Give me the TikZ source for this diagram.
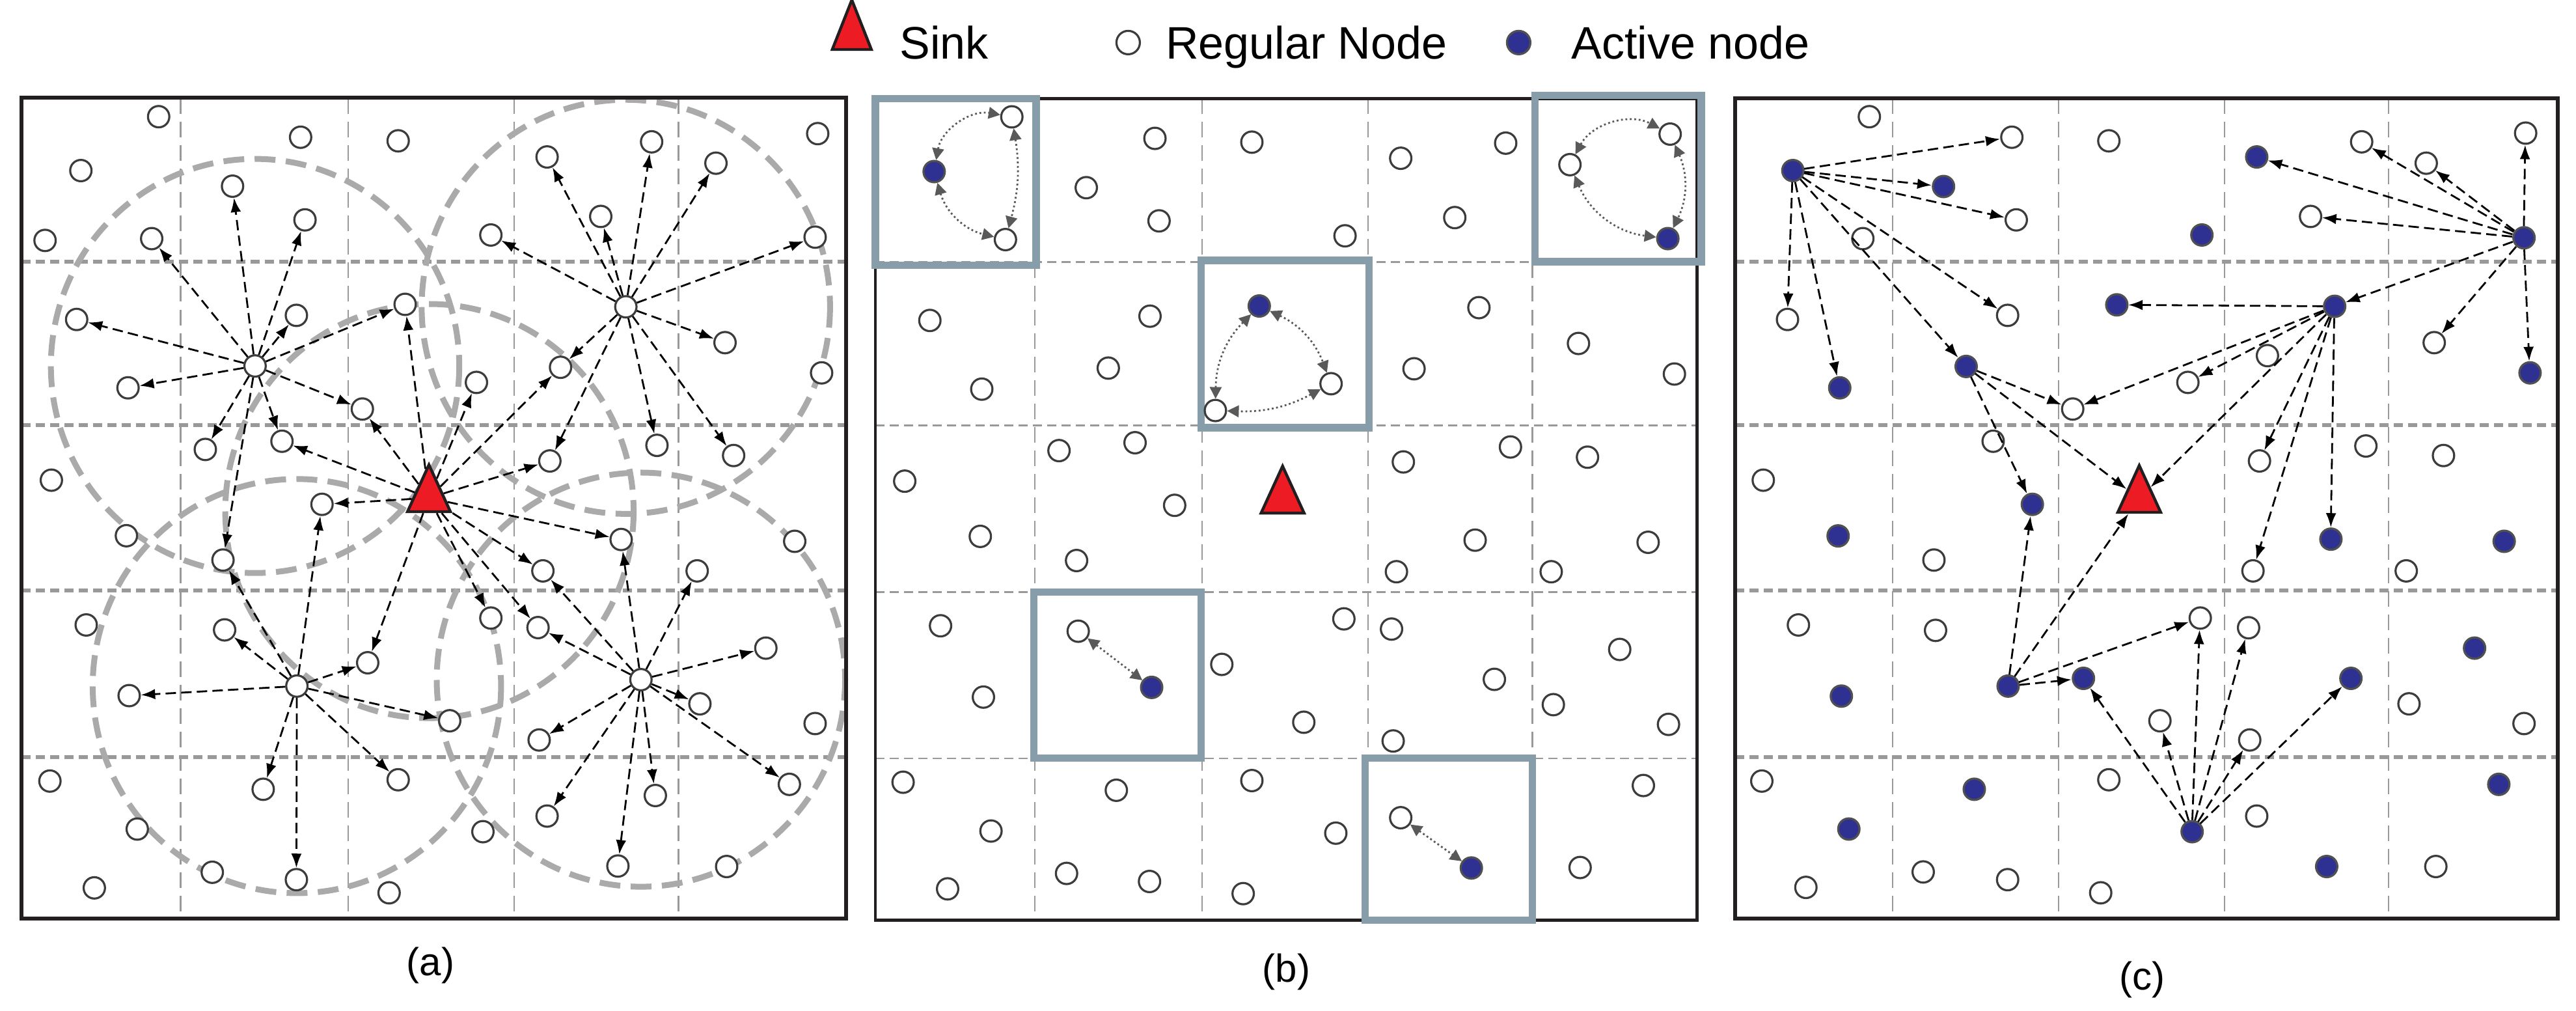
\documentclass[tikz,border=0pt]{standalone}
\usepackage{fontspec}
\setmainfont{Liberation Sans}
\usetikzlibrary{shapes.geometric,arrows.meta}
\definecolor{actc}{HTML}{2E3192}
\definecolor{sinkc}{HTML}{ED1C24}
\definecolor{boxc}{HTML}{879EAA}
\definecolor{ringc}{HTML}{AAAAAA}
\definecolor{gridc}{HTML}{999999}
\definecolor{framec}{HTML}{231F20}
\definecolor{nodec}{HTML}{3C3C3C}
\tikzset{
 reg/.style={circle,draw=nodec,fill=white,line width=1.6pt,minimum size=16.4pt,inner sep=0pt},
 act/.style={reg,fill=actc,draw=nodec!90},
 sink/.style={isosceles triangle,shape border rotate=90,isosceles triangle stretches,minimum width=33pt,minimum height=36pt,inner sep=0pt,fill=sinkc,draw=framec,line width=2.2pt},
 arr/.style={draw=black,line width=1.4pt,dash pattern=on 8pt off 4pt,-{Latex[length=11pt,width=8pt]}},
 dot/.style={draw=black!65,line width=1.4pt,dotted,{Triangle[length=9pt,width=9pt]}-{Triangle[length=9pt,width=9pt]}},
 vgrid/.style={draw=gridc,line width=1.2pt,dash pattern=on 12pt off 6pt},
 hgrid/.style={draw=gridc,line width=3pt,dash pattern=on 7pt off 4pt},
 frame/.style={draw=framec,line width=3pt},
 hbox/.style={draw=boxc,line width=5.7pt},
 ring/.style={draw=ringc,line width=4.5pt,dash pattern=on 16pt off 8pt},
 txt/.style={inner sep=0pt,anchor=base west,font=\fontsize{35}{40}\selectfont},
 lab/.style={inner sep=0pt,font=\fontsize{30}{34}\selectfont}
}
\begin{document}
\begin{tikzpicture}[x=1.262pt,y=-1.262pt]
\useasboundingbox (0,0) rectangle (1568,615);
% legend
\node[sink,minimum width=30pt,minimum height=38pt,isosceles triangle apex angle=40] (lsink) at (518.5,22) {};
\node[txt] (lt1) at (547.6,35.9) {Sink};
\node[reg,minimum size=18pt] (lreg) at (686.7,25.9) {};
\node[txt] (lt2) at (709.5,35.9) {Regular Node};
\node[act,minimum size=18pt] (lact) at (924.4,25.9) {};
\node[txt] (lt3) at (956.4,35.9) {Active node};
\node[lab] (la) at (262,587.6) {(a)};
\node[lab] (lb) at (783,591.6) {(b)};
\node[lab] (lc) at (1304,596.3) {(c)};

%================ panel (a)
\foreach \x in {110,212,313,413} \draw[vgrid] (\x,60) -- (\x,559);
\foreach \y in {159.2,258.5,359.4,460.6} \draw[hgrid] (13,\y) -- (515,\y);
\begin{scope}[xscale=0.9864]
\foreach \cx/\cy in {157.4/222.7,386.2/186.7,183.2/417.5,395.5/413.6,265/311}
  \draw[ring] (\cx,\cy) circle[radius=126];
\foreach \n/\x/\y in {a1/97.9/71,a2/185.5/83.5,a3/245.7/85.7,a4/49.9/103.8,a5/143.5/113.3,a6/337.6/95.5,a7/402.1/86.3,a8/441.8/99.3,a9/504.6/81.3,a10/27.8/146.3,a11/93.6/145.2,a12/188.2/133.8,a13/302.9/143,a14/370.7/131.7,a15/503/144.3,a16/47.3/194.4,a17/250/185.2,a18/182.9/191.9,a19/447.4/208.5,a20/345.9/223.5,a21/507/226.9,a22/79/236,a23/294/232.7,a24/223.6/248.9,a25/174/268.5,a26/126.7/273.5,a27/405.4/271,a28/452.7/277.2,a29/31.7/292.2,a30/339.3/280.5,a31/198.7/306.9,a32/78/326,a33/137.6/340.8,a34/383.3/328.3,a35/490.4/329.4,a36/335/347.4,a37/430.2/347.4,a38/302.9/376.1,a39/332/381.9,a40/53.2/380.3,a41/138.6/383.3,a42/226.9/403.3,a43/472.6/394.4,a44/79.7/423.3,a45/431.9/428.3,a46/277.5/438.6,a47/503/440.3,a48/332.7/450.3,a49/30.8/475.3,a50/162.4/480.3,a51/245.7/474.5,a52/487.1/477.3,a53/404.4/484.1,a54/337.6/496.6,a55/84.7/504.5,a56/298/506.1,a57/131/530.8,a58/182.9/535.3,a59/381.3/527,a60/448.4/527.3,a61/58.2/540.3,a62/240.1/543.3,h1/157.4/222.7,h2/386.2/186.7,h3/183.2/417.5,h4/395.5/413.6}
  \node[reg] (\n) at (\x,\y) {};
\node[sink] (sa) at (264.7,303) {};
\foreach \s/\t in {h1/a5,h1/a12,h1/a11,h1/a18,h1/a17,h1/a16,h1/a22,h1/a24,h1/a25,h1/a26,h1/a33,
 h2/a6,h2/a7,h2/a8,h2/a13,h2/a14,h2/a15,h2/a19,h2/a20,h2/a27,h2/a28,h2/a30,
 h3/a41,h3/a33,h3/a31,h3/a42,h3/a44,h3/a46,h3/a50,h3/a51,h3/a58,
 h4/a34,h4/a37,h4/a39,h4/a36,h4/a43,h4/a45,h4/a48,h4/a52,h4/a53,h4/a54,h4/a59,
 sa/a17,sa/a23,sa/a24,sa/a25,sa/a20,sa/a30,sa/a31,sa/a34,sa/a42,sa/a39,sa/a38,sa/a36}
  \draw[arr] (\s) -- (\t);
\end{scope}
\draw[frame] (13,59.5) rectangle (515,559);

%================ panel (b)
\foreach \x in {629.9,731.6,832.7,932.8} \draw[vgrid] (\x,60) -- (\x,560);
\foreach \y in {159.5,258.9,360.3,461.4} \draw[vgrid,dash pattern=on 7pt off 4pt] (532.8,\y) -- (1032.9,\y);
\draw[frame,line width=2.4pt] (532.8,60) rectangle (1032.9,560);
\draw[hbox] (532.8,60) rectangle (630.6,161.4);
\draw[hbox] (934.4,58.1) rectangle (1035.5,159.2);
\draw[hbox] (731,158.5) rectangle (833.3,260.2);
\draw[hbox] (629.3,360.3) rectangle (731,461.4);
\draw[hbox] (831,461.4) rectangle (932.8,560);
\foreach \n/\x/\y in {b1/703/84.2,b2/762/86.5,b3/852.6/96.3,b4/916.5/87.1,b5/661.2/114.2,b6/705.5/134.4,b7/818.7/143.5,b8/885.5/132.4,b9/566/195,b10/597.6/236.8,b11/700/192.4,b12/674.6/224,b13/900.2/187.2,b14/860.7/224.4,b15/960.8/209,b16/1019.2/227.6,b17/644.6/274.2,b18/690.9/269.4,b19/550.7/292.8,b20/715/307.5,b21/596.7/326.4,b22/655.3/341.1,b23/854.2/281.1,b24/919.4/272,b25/966.3/278.2,b26/897.9/328.7,b27/1003.2/330,b28/850/347.9,b29/944.2/347.9,b30/572.5/380.8,b31/598.6/424.2,b32/743.7/404.3,b33/818/376.6,b34/847/382.8,b35/793.6/439.5,b36/909.6/413.4,b37/985.9/395.2,b38/945.5/428.8,b39/1015.6/440.8,b40/848/450.9,b41/549.7/476,b42/603.2/505.7,b43/576.8/540.9,b44/679.5/480.9,b45/649.2/531.5,b46/699.7/536.4,b47/762/475,b48/756.7/543.8,b49/813.1/507,b50/1000.3/478,b51/961.8/527.9,g1r/615.9/71.1,g1s/612/145.8,g2r/1016.6/81.6,g2s/955.6/100.2,g3r/810.2/233.5,g3s/739.8/249.8,g4r/656.3/384.1,g5r/852.6/497.6}
  \node[reg] (\n) at (\x,\y) {};
\foreach \n/\x/\y in {g1a/568.6/104.4,g2a/1015.2/145.2,g3a/766.5/186.2,g4a/701/418.3,g5a/895.6/528.2}
  \node[act] (\n) at (\x,\y) {};
\node[sink] (sb) at (780.7,303.8) {};
\draw[dot] (g1a) to[bend left=45] (g1r);
\draw[dot] (g1r) to[bend left=12] (g1s);
\draw[dot] (g1a) to[bend right=30] (g1s);
\draw[dot] (g2s) to[bend left=45] (g2r);
\draw[dot] (g2r) to[bend left=25] (g2a);
\draw[dot] (g2s) to[bend right=30] (g2a);
\draw[dot] (g3a) to[bend left=22] (g3r);
\draw[dot] (g3a) to[bend right=22] (g3s);
\draw[dot] (g3r) to[bend left=15] (g3s);
\draw[dot] (g4r) -- (g4a);
\draw[dot] (g5r) -- (g5a);

%================ panel (c)
\foreach \x in {1152,1253,1354,1454} \draw[vgrid] (\x,60) -- (\x,559);
\foreach \y in {159.2,258.5,359.4,460.6} \draw[hgrid] (1056,\y) -- (1557,\y);
\begin{scope}[shift={(10.3,0)},xscale=0.9903]
\foreach \n/\x/\y in {c1/1138.6/71,c2/1226.2/83.5,c3/1285.8/85.7,c4/1228.9/133.8,c5/1134.6/145.2,c6/1441.2/86.3,c7/1480.9/99.3,c8/1542/81,c9/1409.8/131.7,c10/1088.3/194.4,c11/1223.6/191.9,c12/1485.8/208.5,c13/1383.3/216.4,c14/1334.4/232.7,c15/1263.6/248.9,c16/1214.7/268.5,c17/1378.4/280.5,c18/1443.8/271.4,c19/1491.5/277.2,c20/1073.4/292.2,c21/1178.3/340.8,c22/1374.4/347.4,c23/1468.6/347.4,c24/1095/380.3,c25/1179.3/383.6,c26/1342/376.1,c27/1371.7/382,c28/1470.3/428.3,c29/1317.2/438.6,c30/1541/440.3,c31/1372.4/450.3,c32/1072.5/475.3,c33/1285.8/474.5,c34/1376.7/496.6,c35/1171.7/530.6,c36/1223.6/535.3,c37/1486.8/527.3,c38/1099.6/540,c39/1280.8/543.3}
  \node[reg] (\n) at (\x,\y) {};
\foreach \n/\x/\y in {k1/1091.6/103.8,k2/1541/144.7,k3/1424.6/186.4,k4/1198.1/223,k5/1223.9/417.5,k6/1337/506.1,k7/1184.2/113.5,k8/1343/143,k9/1376.7/95.5,k10/1290.7/185.5,k11/1544.7/226.9,k12/1120.4/236,k13/1238.8/306.9,k14/1119.4/326.1,k15/1422.3/328.1,k16/1528.8/329.4,k17/1510.6/394.4,k18/1270.2/412.8,k19/1434.6/412.8,k20/1121.4/423.6,k21/1203.1/480.3,k22/1525.5/477.3,k23/1126/504.5,k24/1419.7/527.3}
  \node[act] (\n) at (\x,\y) {};
\node[sink] (sc) at (1304.5,303.4) {};
\foreach \s/\t in {k1/c2,k1/k7,k1/c4,k1/c10,k1/k12,k1/c11,k1/k4,
 k2/k9,k2/c6,k2/c7,k2/c8,k2/c9,k2/k3,k2/c12,k2/k11,
 k3/k10,k3/c15,k3/c14,k3/sc,k3/c17,k3/k15,k3/c22,
 k4/c15,k4/sc,k4/k13,
 k5/k13,k5/sc,k5/c26,k5/k18,
 k6/k18,k6/c29,k6/c26,k6/c27,k6/c31,k6/k19}
  \draw[arr] (\s) -- (\t);
\end{scope}
\draw[frame] (1056,60) rectangle (1557,559);
\end{tikzpicture}
\end{document}
